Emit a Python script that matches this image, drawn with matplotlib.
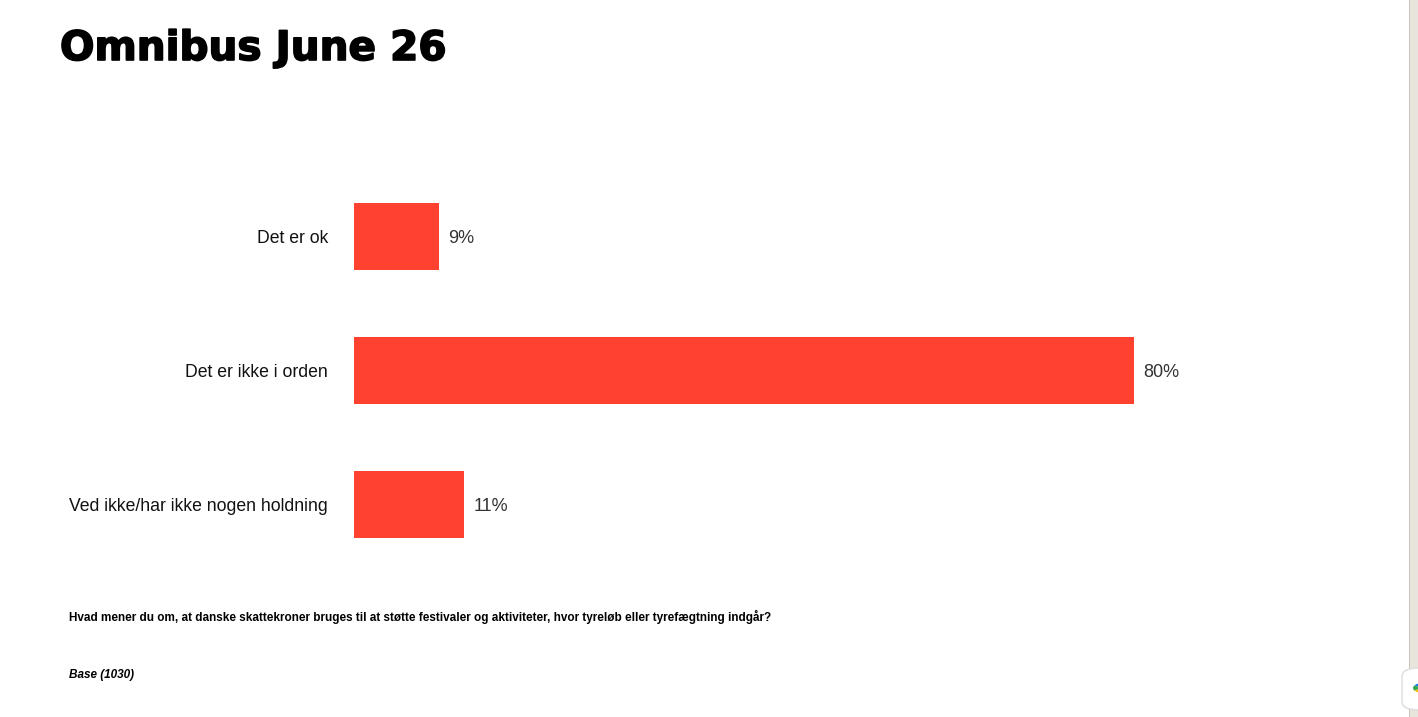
import matplotlib
matplotlib.use("Agg")
import matplotlib.pyplot as plt
import matplotlib.patheffects as pe
from matplotlib.patches import Rectangle, FancyBboxPatch, Wedge

categories = ["Det er ok", "Det er ikke i orden", "Ved ikke/har ikke nogen holdning"]
values = [8.7, 80.0, 11.3]
value_labels = ["9%", "80%", "11%"]
title = "Omnibus June 26"
question = "Hvad mener du om, at danske skattekroner bruges til at støtte festivaler og aktiviteter, hvor tyreløb eller tyrefægtning indgår?"
base = "Base (1030)"

W, H = 1418, 717
fig = plt.figure(figsize=(W / 100, H / 100), dpi=100)
fig.patch.set_facecolor("white")
plt.rcParams['font.family'] = ['Liberation Sans', 'DejaVu Sans']

px_per_unit = 9.75
ax_left, ax_width = 354, 1000
ax_top, ax_bottom = 169.5, 571.5
ax = fig.add_axes([ax_left / W, 1 - ax_bottom / H, ax_width / W, (ax_bottom - ax_top) / H])
ax.set_xlim(0, ax_width / px_per_unit)
ax.set_ylim(len(categories) - 0.5, -0.5)
ypos = list(range(len(categories)))
ax.barh(ypos, values, height=0.5, color="#ff4230")
for y, v, lab in zip(ypos, values, value_labels):
    ax.annotate(lab, (v, y), xytext=(9, 0), textcoords="offset pixels",
                va="center_baseline", ha="left", fontsize=13, color="#333333")
ax.set_yticks(ypos)
ax.set_yticklabels(categories, fontsize=12.7, color="#111111", va="center_baseline")
for t in ax.get_yticklabels():
    t.set_y(t.get_position()[1])
ax.tick_params(axis="y", length=0, pad=18.7)
ax.set_xticks([])
for s in ax.spines.values():
    s.set_visible(False)
ax.patch.set_alpha(0)

fig.text(60 / W, 1 - 49 / H, title, fontsize=29.2, fontweight="heavy", va="center", ha="left",
         color="black", family=["DejaVu Sans"],
         path_effects=[pe.withStroke(linewidth=1.2, foreground="black")])
fig.text(69 / W, 1 - 617 / H, question, fontsize=8.45, fontweight="bold", va="center", ha="left",
         color="black")
fig.text(69 / W, 1 - 675 / H, base, fontsize=8.45, fontweight="bold", style="italic",
         va="center", ha="left", color="black")

# right browser strip and widget
fig.patches.append(Rectangle((1409 / W, 0), 9 / W, 1, transform=fig.transFigure,
                             facecolor="#e9e5dd", edgecolor="none"))
fig.patches.append(Rectangle((1408.5 / W, 0), 1 / W, 1, transform=fig.transFigure,
                             facecolor="#c9c5bd", edgecolor="none"))
fig.patches.append(FancyBboxPatch((1402 / W, 1 - 710 / H), 40 / W, 42 / H,
                                  boxstyle="round,pad=0,rounding_size=0.012",
                                  transform=fig.transFigure, facecolor="white",
                                  edgecolor="#dddddd", linewidth=1))
for th1, th2, c in [(90, 150, "#1a73e8"), (150, 210, "#34a853"), (210, 270, "#fbbc05")]:
    fig.patches.append(Wedge((1423 / W, 1 - 688 / H), 10 / W, th1, th2,
                             transform=fig.transFigure, facecolor=c, edgecolor="none"))
plt.savefig("out.png", dpi=100)
